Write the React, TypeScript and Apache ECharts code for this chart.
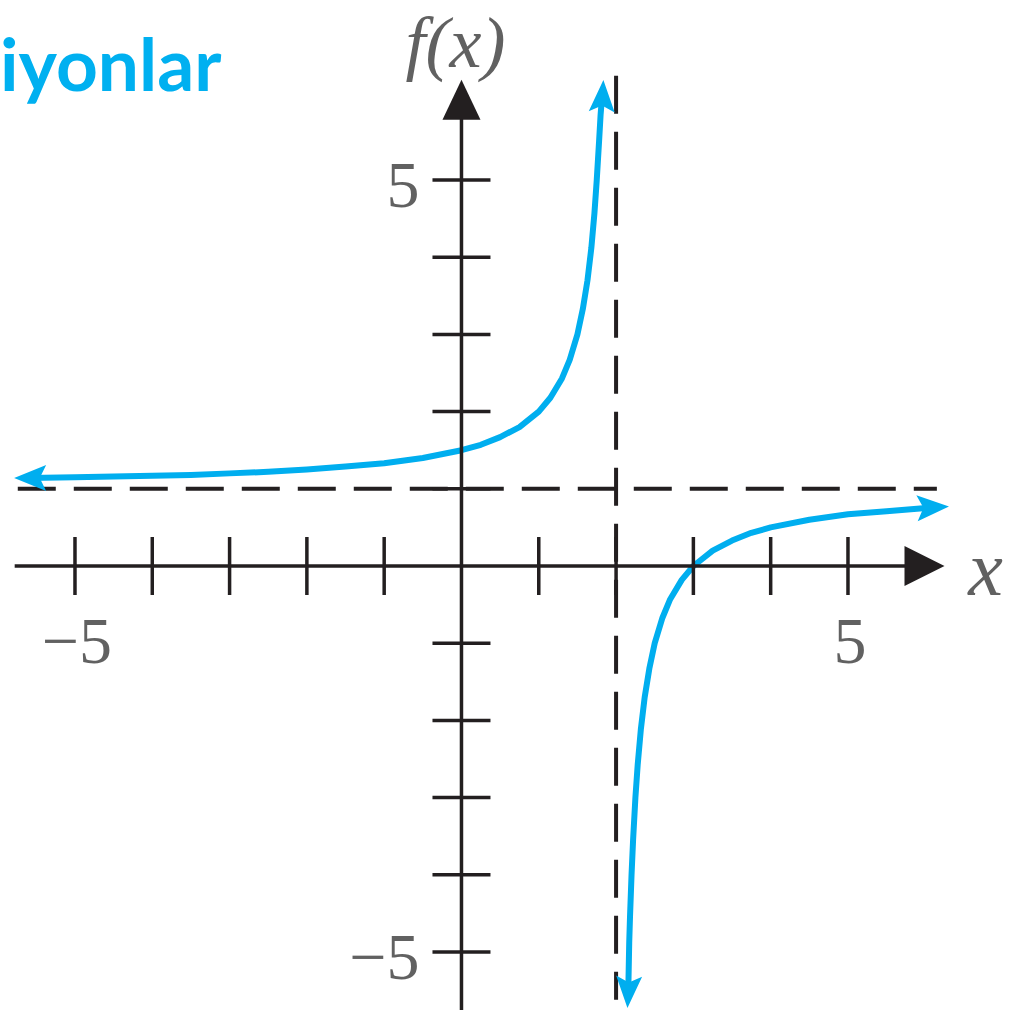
import React, { useEffect, useRef } from "react";
import * as echarts from "echarts";

// ---- data ----
const leftX = [-5.6, -5, -4.5, -4, -3.5, -3, -2.5, -2, -1.5, -1, -0.5, 0, 0.25, 0.5, 0.75, 1, 1.15, 1.3, 1.4, 1.5, 1.57, 1.63, 1.68, 1.72, 1.75, 1.78, 1.8, 1.82];
const leftY = [1.14, 1.15, 1.16, 1.17, 1.18, 1.2, 1.22, 1.25, 1.29, 1.33, 1.4, 1.5, 1.57, 1.67, 1.8, 2.0, 2.18, 2.43, 2.67, 3.0, 3.33, 3.7, 4.12, 4.57, 5.0, 5.5, 5.85, 6.1];
const rightX = [2.158, 2.17, 2.18, 2.2, 2.22, 2.25, 2.28, 2.32, 2.37, 2.43, 2.5, 2.6, 2.7, 2.85, 3.0, 3.25, 3.5, 3.75, 4, 4.5, 5, 5.5, 6.05];
const rightY = [-5.5, -4.88, -4.55, -4.0, -3.55, -3.0, -2.57, -2.12, -1.7, -1.33, -1.0, -0.67, -0.43, -0.18, 0, 0.2, 0.33, 0.43, 0.5, 0.6, 0.67, 0.71, 0.755];
const xTicks = [-5, -4, -3, -2, -1, 1, 2, 3, 4, 5];
const yTicks = [-5, -4, -3, -2, -1, 1, 2, 3, 4, 5];
const xTickLabels = [{ v: -5, t: "\u22125" }, { v: 5, t: "5" }];
const yTickLabels = [{ v: 5, t: "5" }, { v: -5, t: "\u22125" }];
const hAsymptote = 1;
const vAsymptote = 2;
const titleText = "iyonlar";

const X_MIN = -5.97, X_MAX = 7.109, Y_MIN = -5.829, Y_MAX = 7.332;
const BLACK = "#231F20";
const BLUE = "#00AEEF";
const ARROW = "path://M0,0L12,30L0,24L-12,30Z";

export default function App() {
  const ref = useRef<HTMLDivElement>(null);
  useEffect(() => {
    document.body.style.margin = "0";
    const chart = echarts.init(ref.current!, null, { renderer: "svg" });
    const left = leftX.map((x, i) => [x, leftY[i]]);
    const right = rightX.map((x, i) => [x, rightY[i]]);
    const tickFont = { fontFamily: "Liberation Serif", fontSize: 66, color: "#3a3a3a" };
    const nameFont = { fontFamily: "Liberation Serif", fontStyle: "italic", color: "#3a3a3a" };
    chart.setOption({
      animation: false,
      backgroundColor: "#fff",
      grid: { left: 0, right: 0, top: 0, bottom: 0 },
      xAxis: { type: "value", min: X_MIN, max: X_MAX, show: false },
      yAxis: { type: "value", min: Y_MIN, max: Y_MAX, show: false },
      graphic: [
        {
          type: "text",
          left: 0,
          top: 26,
          style: { text: titleText, fill: "#00B0F0", font: "bold 73px Lato" },
        },
      ],
      series: [
        // dashed asymptotes
        {
          type: "line", silent: true, symbol: "none", z: 1,
          data: [[-5.74, hAsymptote], [6.15, hAsymptote]],
          lineStyle: { color: BLACK, width: 4, type: [38, 18] },
        },
        {
          type: "line", silent: true, symbol: "none", z: 1,
          data: [[vAsymptote, 6.35], [vAsymptote, -5.62]],
          lineStyle: { color: BLACK, width: 4, type: [38, 18] },
        },
        // curve
        {
          type: "line", symbol: "none", z: 2, smooth: false,
          data: left, lineStyle: { color: BLUE, width: 6, join: "round" },
        },
        {
          type: "line", symbol: "none", z: 2, smooth: false,
          data: right, lineStyle: { color: BLUE, width: 6, join: "round" },
        },
        {
          type: "scatter", z: 3, symbol: ARROW, symbolSize: [26, 32], symbolKeepAspect: false,
          itemStyle: { color: BLUE, opacity: 1 },
          data: [
            { value: [-5.58, leftY[0]], symbolRotate: 90 },
            { value: [1.825, 6.09], symbolRotate: -3 },
            { value: [2.158, -5.52], symbolRotate: 177 },
            { value: [6.1, 0.76], symbolRotate: -87 },
          ],
        },
        // axes
        {
          type: "line", symbol: "none", z: 4,
          data: [[-5.78, 0], [5.9, 0]], lineStyle: { color: BLACK, width: 3.5 },
        },
        {
          type: "line", symbol: "none", z: 4,
          data: [[0, -5.75], [0, 5.9]], lineStyle: { color: BLACK, width: 3.5 },
        },
        {
          type: "scatter", z: 5, symbol: "triangle", itemStyle: { color: BLACK, opacity: 1 },
          data: [
            { value: [5.99, 0], symbolRotate: -90, symbolSize: [40, 40] },
            { value: [0, 6.04], symbolRotate: 0, symbolSize: [38, 40] },
          ],
        },
        // ticks
        {
          type: "scatter", z: 5, symbol: "rect", symbolSize: [3.5, 58],
          itemStyle: { color: BLACK, opacity: 1 },
          data: xTicks.map((v) => [v, 0]),
        },
        {
          type: "scatter", z: 5, symbol: "rect", symbolSize: [58, 3.5],
          itemStyle: { color: BLACK, opacity: 1 },
          data: yTicks.map((v) => [0, v]),
        },
        // tick labels
        {
          type: "scatter", z: 6, symbolSize: 1, itemStyle: { color: "rgba(0,0,0,0)" },
          data: xTickLabels.map((d) => ({ value: [d.v, 0], name: d.t })),
          label: { show: true, position: "inside", formatter: "{b}", offset: [2, 74], ...tickFont },
        },
        {
          type: "scatter", z: 6, symbolSize: 1, itemStyle: { color: "rgba(0,0,0,0)" },
          data: yTickLabels.map((d) => ({ value: [0, d.v], name: d.t })),
          label: { show: true, position: "inside", align: "right", formatter: "{b}", offset: [-42, 4], ...tickFont },
        },
        // axis names
        {
          type: "scatter", z: 6, symbolSize: 1, itemStyle: { color: "rgba(0,0,0,0)" },
          data: [
            {
              value: [0, 6.3], name: "f(x)",
              label: { offset: [-6, -37], fontSize: 72, lineHeight: 72, ...nameFont },
            },
            {
              value: [6.25, 0], name: "x",
              label: { offset: [41, 2], fontSize: 78, lineHeight: 78, ...nameFont },
            },
          ],
          label: { show: true, position: "inside", formatter: "{b}" },
        },
      ],
    });
    return () => chart.dispose();
  }, []);
  return (
    <div
      ref={ref}
      style={{ position: "absolute", left: 0, top: 0, width: 1011, height: 1016, background: "#fff" }}
    />
  );
}
